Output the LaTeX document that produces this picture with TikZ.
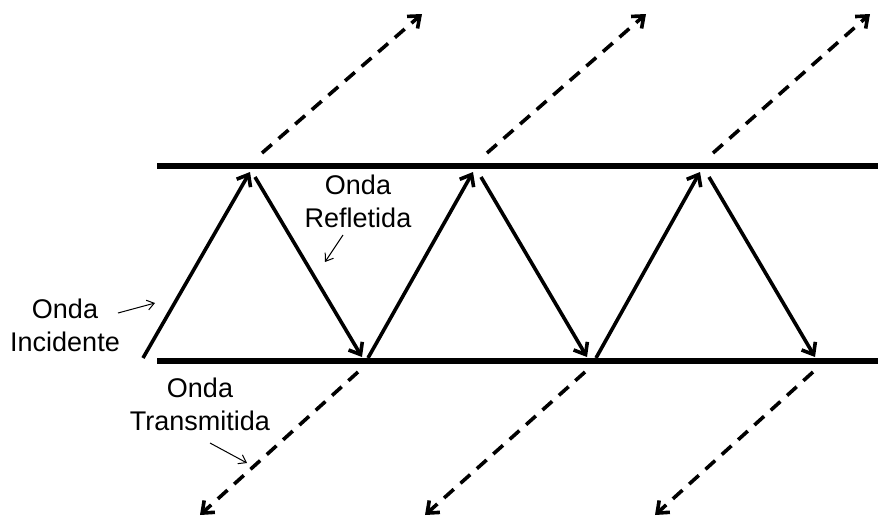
\documentclass[tikz,border=0pt]{standalone}
\usepackage{fontspec}
\setmainfont{Liberation Sans}
\usetikzlibrary{arrows.meta}
\begin{document}
\begin{tikzpicture}[x=1pt,y=-1pt,
  boundary/.style={line width=6pt},
  ray/.style={line width=3.6pt,-{Straight Barb[length=10pt,width=16pt,line width=3.6pt]}},
  outray/.style={line width=3.6pt,dash pattern=on 13pt off 9pt,-{Straight Barb[length=10pt,width=16pt,line width=3.6pt]}},
  pointer/.style={line width=1pt,-{Straight Barb[length=7pt,width=10pt,line width=1pt]}},
  label/.style={align=center,font=\fontsize{27}{33}\selectfont,inner sep=0pt}]
\useasboundingbox (0,0) rectangle (878,520);

% slab boundaries
\coordinate (tl) at (157,166); \coordinate (tr) at (878,166);
\coordinate (bl) at (157,361); \coordinate (br) at (878,361);
\draw[boundary] (tl) -- (tr);
\draw[boundary] (bl) -- (br);

% zig-zag path inside the slab
\coordinate (u1s) at (143,358); \coordinate (u1e) at (250,172);
\coordinate (d1s) at (255,177); \coordinate (d1e) at (362,357);
\coordinate (u2s) at (368,358); \coordinate (u2e) at (473,172);
\coordinate (d2s) at (481,177); \coordinate (d2e) at (587,357);
\coordinate (u3s) at (596,358); \coordinate (u3e) at (700,172);
\coordinate (d3s) at (709,177); \coordinate (d3e) at (815,357);
\draw[ray] (u1s) -- (u1e);
\draw[ray] (d1s) -- (d1e);
\draw[ray] (u2s) -- (u2e);
\draw[ray] (d2s) -- (d2e);
\draw[ray] (u3s) -- (u3e);
\draw[ray] (d3s) -- (d3e);

% waves leaving through the top boundary
\coordinate (t1s) at (262,153); \coordinate (t1e) at (422,14);
\coordinate (t2s) at (487,153); \coordinate (t2e) at (646,14);
\coordinate (t3s) at (713,153); \coordinate (t3e) at (870,14);
\draw[outray] (t1s) -- (t1e);
\draw[outray] (t2s) -- (t2e);
\draw[outray] (t3s) -- (t3e);

% waves leaving through the bottom boundary
\coordinate (b1s) at (358,372); \coordinate (b1e) at (200,515);
\coordinate (b2s) at (585,372); \coordinate (b2e) at (425,515);
\coordinate (b3s) at (813,372); \coordinate (b3e) at (655,515);
\draw[outray] (b1s) -- (b1e);
\draw[outray] (b2s) -- (b2e);
\draw[outray] (b3s) -- (b3e);

% labels (base anchor sits on the last line)
\node[label,anchor=base] (inc) at (65,351) {Onda\\Incidente};
\node[label,anchor=base] (ref) at (358,227) {Onda\\Refletida};
\node[label,anchor=base] (tra) at (200,430) {Onda\\Transmitida};

% label pointers
\coordinate (pi1) at (118,313); \coordinate (pi2) at (155,303);
\coordinate (pr1) at (343,235); \coordinate (pr2) at (325,262);
\coordinate (pt1) at (210,443); \coordinate (pt2) at (247,463);
\draw[pointer] (pi1) -- (pi2);
\draw[pointer] (pr1) -- (pr2);
\draw[pointer] (pt1) -- (pt2);
\end{tikzpicture}
\end{document}
